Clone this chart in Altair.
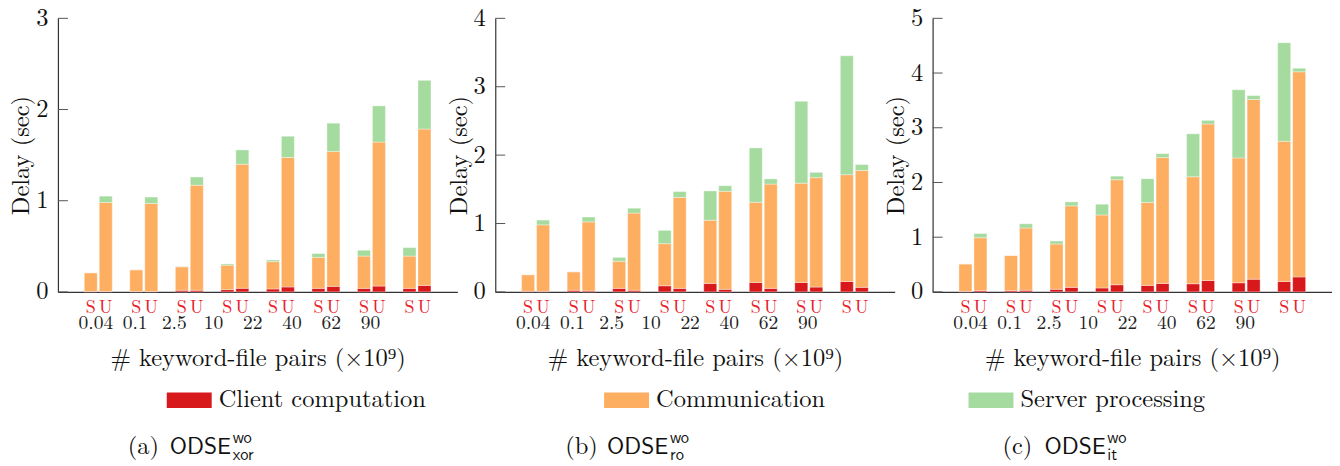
import altair as alt
import pandas as pd

# ---------------- data ----------------
groups = ["g1", "g2", "g3", "g4", "g5", "g6", "g7", "g8"]
size_labels = ["0.04", "0.1", "2.5", "10", "22", "40", "62", "90"]
bar_kinds = ["S", "U"]
components = ["Client computation", "Communication", "Server processing"]
comp_colors = ["#d7191c", "#fdae61", "#a6dba0"]

# (a) ODSE_xor
xor_S_client = [0.005, 0.005, 0.018, 0.025, 0.032, 0.039, 0.039, 0.039]
xor_S_comm = [0.205, 0.238, 0.257, 0.268, 0.300, 0.340, 0.354, 0.354]
xor_S_server = [0.0, 0.0, 0.004, 0.014, 0.018, 0.042, 0.064, 0.093]
xor_U_client = [0.005, 0.005, 0.018, 0.040, 0.054, 0.061, 0.064, 0.071]
xor_U_comm = [0.975, 0.965, 1.152, 1.360, 1.421, 1.478, 1.579, 1.715]
xor_U_server = [0.070, 0.070, 0.090, 0.157, 0.232, 0.311, 0.397, 0.534]

# (b) ODSE_ro
ro_S_client = [0.010, 0.024, 0.052, 0.090, 0.124, 0.138, 0.138, 0.152]
ro_S_comm = [0.242, 0.271, 0.396, 0.615, 0.924, 1.172, 1.452, 1.562]
ro_S_server = [0.0, 0.0, 0.057, 0.195, 0.428, 0.795, 1.196, 1.738]
ro_U_client = [0.010, 0.015, 0.024, 0.052, 0.038, 0.052, 0.071, 0.067]
ro_U_comm = [0.970, 1.009, 1.128, 1.329, 1.433, 1.524, 1.600, 1.709]
ro_U_server = [0.070, 0.071, 0.072, 0.086, 0.081, 0.076, 0.077, 0.086]

# (c) ODSE_it
it_S_client = [0.010, 0.024, 0.048, 0.072, 0.119, 0.149, 0.167, 0.191]
it_S_comm = [0.502, 0.643, 0.828, 1.334, 1.514, 1.955, 2.282, 2.562]
it_S_server = [0.0, 0.0, 0.054, 0.197, 0.435, 0.786, 1.246, 1.800]
it_U_client = [0.024, 0.030, 0.083, 0.131, 0.155, 0.209, 0.232, 0.274]
it_U_comm = [0.966, 1.138, 1.490, 1.919, 2.300, 2.860, 3.284, 3.749]
it_U_server = [0.077, 0.077, 0.072, 0.066, 0.072, 0.066, 0.072, 0.065]

# ---------------- layout / style ----------------
W, H = 400, 274
SERIF = "Latin Modern Roman"
SANS = "Latin Modern Sans"
FS = 24.5
RED_TXT = "#e8212a"
AX = "#333333"
TXT = "#111111"


def panel(letter, sub, ymax, S, U, legend_idx, legend_x):
    rows = []
    for i, g in enumerate(groups):
        for kind, parts in (("S", S), ("U", U)):
            for k, comp in enumerate(components):
                rows.append({"group": g, "kind": kind, "component": comp,
                             "ord": k, "delay": parts[k][i]})
    df = pd.DataFrame(rows)

    x_scale = alt.Scale(domain=groups, paddingInner=0.386, paddingOuter=0.579)
    xo_scale = alt.Scale(domain=bar_kinds, paddingInner=0.133, paddingOuter=0)
    y_scale = alt.Scale(domain=[0, ymax], nice=False, zero=True)
    y_ticks = list(range(ymax + 1))
    y_axis = alt.Axis(values=y_ticks, title="Delay (sec)", grid=False, ticks=False,
                      tickSize=0, labelPadding=10, titlePadding=2, domainColor=AX,
                      domainWidth=1.2, format="d",
                      labelFont=SERIF, labelFontSize=FS, titleFont=SERIF,
                      titleFontSize=FS, titleFontWeight="normal",
                      labelColor=TXT, titleColor=TXT)
    x_axis = alt.Axis(title="# keyword-file pairs (×10⁹)", labels=False, ticks=False,
                      tickSize=0, titlePadding=55, domainColor=AX, domainWidth=1.2,
                      grid=False, titleFont=SERIF, titleFontSize=FS,
                      titleFontWeight="normal", titleColor=TXT)

    bars = alt.Chart(df).mark_bar(stroke="white", strokeWidth=0.6, strokeOpacity=0.6).encode(
        x=alt.X("group:N", scale=x_scale, axis=x_axis, sort=groups),
        xOffset=alt.XOffset("kind:N", scale=xo_scale, sort=bar_kinds),
        y=alt.Y("delay:Q", stack="zero", scale=y_scale, axis=y_axis),
        color=alt.Color(
            "component:N",
            scale=alt.Scale(domain=components, range=comp_colors),
            legend=alt.Legend(values=[components[legend_idx]], orient="none",
                              legendX=legend_x, legendY=H + 86, title=None,
                              symbolType="M-1,-0.35L1,-0.35L1,0.35L-1,0.35Z",
                              symbolSize=2025, symbolStrokeWidth=0, symbolOpacity=1,
                              labelFont=SERIF, labelFontSize=FS, labelColor=TXT,
                              labelOffset=7, padding=0, labelLimit=400),
        ),
        order=alt.Order("ord:Q"),
    )

    tick_df = pd.DataFrame({"t": y_ticks})
    ticks = alt.Chart(tick_df).mark_rule(color="#555555", strokeWidth=1).encode(
        y=alt.Y("t:Q", scale=y_scale, axis=y_axis),
        x=alt.value(0), x2=alt.value(10),
    )

    su_df = pd.DataFrame({"group": [g for g in groups for _ in bar_kinds],
                          "kind": bar_kinds * len(groups)})
    su = alt.Chart(su_df).mark_text(font=SERIF, fontSize=18, color=RED_TXT,
                                    baseline="alphabetic").encode(
        x=alt.X("group:N", scale=x_scale, axis=None, sort=groups),
        xOffset=alt.XOffset("kind:N", scale=xo_scale, sort=bar_kinds),
        y=alt.value(H + 21),
        text="kind:N",
    )

    num_df = pd.DataFrame({"size": size_labels})
    nums = alt.Chart(num_df).mark_text(font=SERIF, fontSize=19.5, color="#222222",
                                       baseline="alphabetic").encode(
        x=alt.X("size:N", sort=size_labels,
                scale=alt.Scale(type="point", domain=size_labels, range=[38, 313],
                                padding=0),
                axis=None),
        y=alt.value(H + 37),
        text="size:N",
    )

    one = pd.DataFrame({"k": [0]})
    cap_a = alt.Chart(one).mark_text(font=SERIF, fontSize=FS, align="left",
                                     baseline="alphabetic", color=TXT,
                                     text=letter).encode(
        x=alt.value(70), y=alt.value(H + 162))
    cap_b = alt.Chart(one).mark_text(font=SANS, fontSize=23.5, align="left",
                                     baseline="alphabetic", color=TXT,
                                     text="ODSE").encode(
        x=alt.value(112), y=alt.value(H + 162))
    cap_sup = alt.Chart(one).mark_text(font=SANS, fontSize=16.5, align="left",
                                       baseline="alphabetic", color=TXT,
                                       text="wo").encode(
        x=alt.value(175), y=alt.value(H + 151))
    cap_sub = alt.Chart(one).mark_text(font=SANS, fontSize=16.5, align="left",
                                       baseline="alphabetic", color=TXT,
                                       text=sub).encode(
        x=alt.value(175), y=alt.value(H + 168))

    return alt.layer(bars, ticks, su, nums, cap_a, cap_b, cap_sup, cap_sub).resolve_scale(
        x="independent").properties(width=W, height=H)


pa = panel("(a)", "xor", 3, (xor_S_client, xor_S_comm, xor_S_server),
           (xor_U_client, xor_U_comm, xor_U_server), 0, 109)
pb = panel("(b)", "ro", 4, (ro_S_client, ro_S_comm, ro_S_server),
           (ro_U_client, ro_U_comm, ro_U_server), 1, 109)
pc = panel("(c)", "it", 5, (it_S_client, it_S_comm, it_S_server),
           (it_U_client, it_U_comm, it_U_server), 2, 36)

chart = alt.hconcat(pa, pb, pc, spacing=38, bounds="flush").resolve_scale(
    color="independent", y="independent", x="independent"
).properties(
    padding={"left": 0, "top": -3, "right": 0, "bottom": 0}
).configure(font=SERIF).configure_view(stroke=None)

chart.save("out.html", embed_options={"renderer": "svg", "actions": False})
